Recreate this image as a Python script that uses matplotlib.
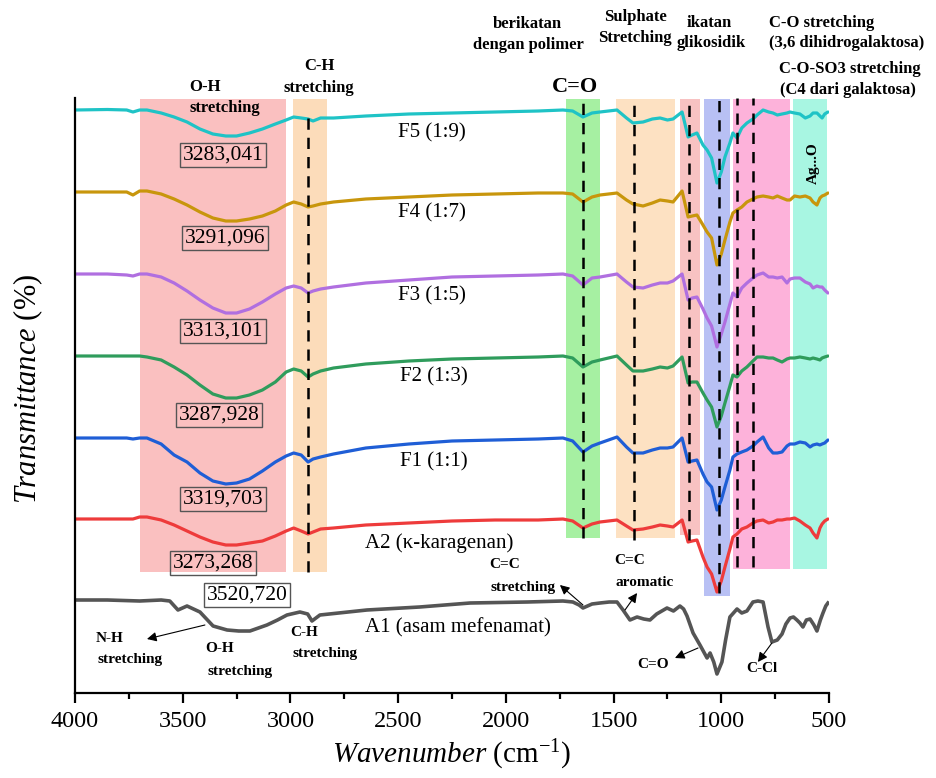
import matplotlib
matplotlib.use("Agg")
import matplotlib.pyplot as plt
from matplotlib.patches import Rectangle

plt.rcParams["font.family"] = ["Liberation Serif", "DejaVu Serif"]
plt.rcParams["mathtext.fontset"] = "custom"
plt.rcParams["mathtext.rm"] = "Liberation Serif"
plt.rcParams["mathtext.it"] = "Liberation Serif:italic"

# ---------------- data ----------------
# shared wavenumber grid (cm-1) for the formulas and kappa-carrageenan
wn = [4000, 3850, 3760, 3731, 3700, 3666, 3600, 3540, 3480, 3420, 3360, 3300,
      3250, 3190, 3130, 3070, 3020, 2985, 2950, 2918, 2895, 2860, 2800, 2650,
      2450, 2250, 2050, 1850, 1735, 1690, 1642, 1600, 1563, 1484, 1440, 1410,
      1363, 1320, 1284, 1250, 1224, 1182, 1154, 1135, 1113, 1085, 1066, 1045,
      1020, 1000, 983, 960, 946, 927, 905, 881, 853, 834, 806, 780, 760, 740,
      718, 695, 681, 660, 635, 610, 588, 574, 556, 542, 532, 520, 505]

# relative transmittance of each spectrum (before vertical offset)
F5 = [0, 0.5, 0, -2, 0, 0, -3, -7, -12, -19, -24, -26, -26, -23, -19, -14, -10,
      -7, -8, -9, -11, -8, -8, -6, -4, -3, -2, -1, 0, -1, -7, -3, -2, 0, -8,
      -13, -12, -9, -8, -10, -9, -2, -27, -25, -23, -35, -40, -48, -73, -62,
      -47, -33, -23, -28, -18, -13, -9, -5, 0, -2, -3, -5, -4, -3, -2, -3, -4,
      -8, -6, -3, -3, -6, -8, -4, -2]
F4 = [0, 0, 0, -3, 1, 1, -2, -7, -13, -20, -26, -29, -29, -27, -24, -19, -13,
      -10, -12, -15, -14, -12, -10, -7, -5, -3, -2, -1, -1, -2, -10, -5, -3,
      -1, -8, -12, -14, -11, -8, -9, -10, 1, -25, -24, -23, -33, -40, -46, -73,
      -62, -48, -30, -21, -18, -15, -10, -7, -5, -4, -5, -6, -4, -6, -8, -8,
      -4, -5, -4, -6, -10, -13, -6, -4, -3, -1]
F3 = [0, 0, -1, -2, 0, 0, -3, -9, -17, -26, -34, -39, -39, -35, -28, -20, -14,
      -12, -14, -19, -17, -15, -13, -9, -6, -3, -2, -1, 0, -2, -11, -4, -3, 0,
      -8, -13, -14, -11, -9, -9, -7, 0, -26, -24, -23, -35, -44, -52, -73, -60,
      -48, -30, -19, -23, -14, -9, -4, -1, 1, -3, -3, -4, -3, -9, -5, -4, -4,
      -8, -10, -14, -12, -13, -13, -16, -19]
F2 = [0, 0, 0, 0, 0, -1, -4, -11, -19, -29, -38, -42, -42, -39, -34, -26, -16,
      -13, -15, -21, -18, -15, -12, -8, -5, -3, -2, -1, 0, -2, -11, -6, -4, 0,
      -9, -15, -15, -13, -11, -12, -10, -1, -27, -26, -26, -37, -44, -51, -71,
      -60, -47, -30, -19, -21, -15, -11, -5, -1, -1, -2, -2, -4, -6, -3, -2,
      -2, -1, -2, -3, -2, -3, -4, -2, -1, 0]
F1 = [0, 0, 0, -1, 0, 0, -6, -17, -24, -35, -43, -46, -45, -41, -33, -24, -18,
      -15, -17, -24, -21, -19, -16, -10, -6, -3, -2, -1, 0, -3, -14, -8, -5, 1,
      -9, -15, -15, -12, -10, -10, -9, 0, -24, -23, -22, -36, -44, -49, -72,
      -62, -49, -32, -19, -16, -14, -12, -8, -4, 1, -10, -15, -15, -14, -8, -6,
      -6, -4, -5, -9, -7, -6, -7, -6, -5, -2]
A2 = [0, 0, 0, 0, 2, 2, -1, -6, -12, -18, -23, -26, -26, -24, -22, -17, -12,
      -9, -12, -15, -13, -10, -9, -6, -4, -2, -1, -1, 0, -2, -9, -5, -3, -1,
      -7, -11, -10, -8, -6, -7, -8, -1, -23, -22, -21, -38, -48, -55, -73, -62,
      -48, -30, -18, -15, -10, -8, -4, -2, -1, -4, -3, -1, -1, 0, 0, 1, -2, -6,
      -9, -14, -19, -9, -5, -2, 0]

# mefenamic acid spectrum on its own grid
wn_A1 = [4000, 3850, 3700, 3600, 3560, 3522, 3480, 3420, 3359, 3294, 3240,
         3188, 3109, 3060, 3016, 2956, 2920, 2900, 2863, 2645, 2400, 2166,
         1900, 1735, 1689, 1660, 1642, 1600, 1563, 1520, 1484, 1456, 1424,
         1391, 1360, 1331, 1300, 1284, 1252, 1222, 1192, 1175, 1159, 1131,
         1099, 1066, 1052, 1035, 1020, 997, 980, 960, 927, 905, 881, 853, 830,
         806, 783, 765, 740, 718, 700, 681, 665, 649, 635, 621, 605, 588, 570,
         556, 540, 528, 515, 505]
A1 = [0, 0, -1, 0, -1, -10, -6, -12, -26, -30, -31, -31, -25, -20, -15, -12,
      -14, -21, -15, -10, -7, -3, -2, -1, -2, -5, -8, -4, -3, -2, -2, -10, -20,
      -17, -19, -20, -14, -12, -8, -11, -6, -9, -16, -33, -45, -58, -53, -62,
      -74, -62, -40, -17, -9, -13, -11, -2, -1, -2, -27, -42, -40, -34, -24,
      -18, -17, -20, -23, -27, -20, -19, -25, -31, -20, -13, -6, -3]

names = ["F5 (1:9)", "F4 (1:7)", "F3 (1:5)", "F2 (1:3)", "F1 (1:1)",
         "A2 (\u03ba-karagenan)", "A1 (asam mefenamat)"]
offsets = [583, 501, 419, 337, 255, 174, 93]
colors = ["#1fc3c6", "#c8960c", "#b06fe0", "#2f9c5c", "#1f5ed6", "#ee3b3b",
          "#555555"]

# O-H peak positions (cm-1)
oh_peaks = ["3283,041", "3291,096", "3313,101", "3287,928", "3319,703",
            "3273,268", "3520,720"]

# shaded assignment bands: (high wn, low wn, lower edge, colour)
bands = [(3700, 3020, 121, "#fac0c0"), (2990, 2830, 121, "#fcdcba"),
         (1721, 1563, 155, "#a6f0a2"), (1488, 1215, 155, "#fde1c2"),
         (1191, 1099, 158, "#f8c2c2"), (1080, 959, 97, "#b8c0f4"),
         (945, 681, 124, "#fdb2da"), (667, 509, 124, "#a8f6e2")]
band_top = 594

# dashed guide lines: (wn, top, bottom)
guides = [(2918, 580, 121), (1642, 595, 155), (1405, 596, 153),
          (1150, 596, 153), (1010, 595, 100), (927, 595, 126), (853, 595, 126)]

# ---------------- figure ----------------
fig = plt.figure(figsize=(9.37, 7.78), dpi=100)
ax = fig.add_axes([75 / 937, 85 / 778, 754 / 937, 595 / 778])
ax.set_xlim(4000, 500)
ax.set_ylim(0, 595)

for hi, lo, bot, c in bands:
    ax.add_patch(Rectangle((lo, bot), hi - lo, band_top - bot, fc=c, ec="none",
                           zorder=0))

series = [F5, F4, F3, F2, F1, A2]
for vals, off, c in zip(series, offsets[:6], colors[:6]):
    ax.plot(wn, [v + off for v in vals], color=c, lw=2.3, zorder=2,
            solid_joinstyle="round", solid_capstyle="round")
ax.plot(wn_A1, [v + offsets[6] for v in A1], color=colors[6], lw=2.6,
        zorder=2, solid_joinstyle="round")

for x, top, bot in guides:
    ax.plot([x, x], [bot, top], color="black", lw=1.8,
            linestyle=(0, (4.5, 3.2)), zorder=3)

# series names
name_pos = [(2501, 560), (2501, 480), (2501, 397), (2491, 316), (2491, 231),
            (2654, 150), (2654, 65)]
for (x, y), t in zip(name_pos, names):
    ax.text(x, y, t, fontsize=15, ha="left", va="center", zorder=4)

# boxed peak values
box_pos = [(3313, 538), (3304, 455), (3313, 362), (3332, 278), (3313, 194),
           (3359, 130), (3202, 98)]
for i, ((x, y), t) in enumerate(zip(box_pos, oh_peaks)):
    ax.text(x, y, t, fontsize=15.5, ha="center", va="center", zorder=4,
            bbox=dict(boxstyle="square,pad=0.12",
                      fc="white" if i == 6 else "none", ec="#555555", lw=1))

bold = dict(fontweight="bold", ha="center", va="center", zorder=5)
# top assignments
ax.text(3397, 606, "O-H", fontsize=12, **bold)
ax.text(3304, 585, "stretching", fontsize=12, **bold)
ax.text(2867, 627, "C-H", fontsize=12, **bold)
ax.text(2867, 605, "stretching", fontsize=12, **bold)
ax.text(1679, 606, "C=O", fontsize=16, **bold)
ax.text(1902, 669, "berikatan", fontsize=12, **bold)
ax.text(1897, 648, "dengan polimer", fontsize=12, **bold)
ax.text(1400, 676, "Sulphate", fontsize=12, **bold)
ax.text(1400, 655, "Stretching", fontsize=12, **bold)
ax.text(1057, 670, "ikatan", fontsize=12, **bold)
ax.text(1048, 650, "glikosidik", fontsize=12, **bold)
ax.text(532, 670, "C-O stretching", fontsize=12, **bold)
ax.text(416, 650, "(3,6 dihidrogalaktosa)", fontsize=12, **bold)
ax.text(402, 624, "C-O-SO3 stretching", fontsize=12, **bold)
ax.text(412, 603, "(C4 dari galaktosa)", fontsize=12, **bold)
ax.text(574, 530, "Ag...O", fontsize=11, rotation=90, **bold)

# bottom (mefenamic acid) assignments
ax.text(2004, 128, "C=C", fontsize=11, **bold)
ax.text(1920, 106, "stretching", fontsize=11, **bold)
ax.text(1424, 132, "C=C", fontsize=11, **bold)
ax.text(1354, 111, "aromatic", fontsize=11, **bold)
ax.text(1317, 28, "C=O", fontsize=11, **bold)
ax.text(811, 25, "C-Cl", fontsize=11, **bold)
ax.text(3838, 55, "N-H", fontsize=11, **bold)
ax.text(3745, 34, "stretching", fontsize=11, **bold)
ax.text(3327, 44, "O-H", fontsize=11, **bold)
ax.text(3234, 22, "stretching", fontsize=11, **bold)
ax.text(2937, 61, "C-H", fontsize=11, **bold)
ax.text(2840, 39, "stretching", fontsize=11, **bold)

arrows = [((1391, 596), (1642, 640)), ((1145, 596), (1331, 638)),
          ((1006, 595), (1043, 640)), ((927, 595), (797, 650)),
          ((848, 595), (741, 615)), ((1642, 88), (1749, 108)),
          ((1447, 83), (1391, 100)), ((1108, 45), (1215, 35)),
          ((765, 50), (830, 31)), ((3397, 68), (3666, 54))]
for tail, head in arrows:
    ax.annotate("", xy=head, xytext=tail, zorder=5,
                arrowprops=dict(arrowstyle="-|>", color="black", lw=0.8,
                                mutation_scale=14, shrinkA=0, shrinkB=0))

# axes styling
for s in ("top", "right"):
    ax.spines[s].set_visible(False)
for s in ("left", "bottom"):
    ax.spines[s].set_linewidth(1.6)
ax.set_yticks([])
ax.set_xticks([4000, 3500, 3000, 2500, 2000, 1500, 1000, 500])
ax.set_xticks([3750, 3250, 2750, 2250, 1750, 1250, 750], minor=True)
ax.tick_params(axis="x", which="major", length=7, width=1.6, labelsize=17.5,
               pad=6)
ax.tick_params(axis="x", which="minor", length=4, width=1.6)

fig.text(452 / 937, 1 - 755 / 778,
         r"$\mathit{Wavenumber}$ (cm$^{\mathrm{-1}}$)", fontsize=21,
         ha="center", va="center")
fig.text(28 / 937, 1 - 389 / 778, r"$\mathit{Transmittance}$ (%)",
         fontsize=22, ha="center", va="center", rotation=90)

fig.savefig("out.png", dpi=100)
